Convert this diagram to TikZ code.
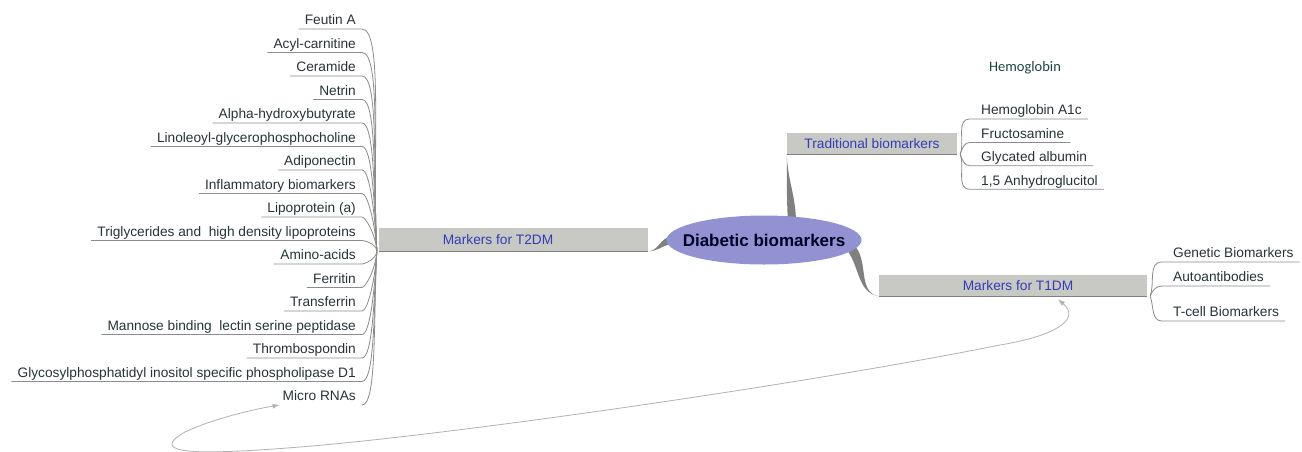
\documentclass[tikz,border=0pt]{standalone}
\usepackage{fontspec}
\setmainfont{Liberation Sans}
\newfontfamily\calfont{Carlito}
\usetikzlibrary{backgrounds,shapes,calc,arrows.meta}

\definecolor{hubblue}{RGB}{146,146,210}
\definecolor{boxgray}{RGB}{200,200,197}
\definecolor{linkgray}{RGB}{128,128,128}
\definecolor{twiggray}{RGB}{140,140,140}
\definecolor{labelblue}{RGB}{52,62,178}
\definecolor{leaftext}{RGB}{38,52,56}
\definecolor{arcgray}{RGB}{178,178,178}

\tikzset{
  leaf/.style={font=\fontsize{13.7}{16}\selectfont, text=leaftext, inner xsep=6pt, inner ysep=1pt, text height=10pt, text depth=3pt},
  branch/.style={fill=boxgray, inner sep=0pt, font=\fontsize{13.7}{16}\selectfont, text=labelblue},
  twig/.style={draw=twiggray, line width=0.8pt},
  limb/.style={fill=linkgray},
  rim/.style={draw=linkgray, line width=1.6pt}
}

\begin{document}
\begin{tikzpicture}[x=1pt,y=-1pt]
\useasboundingbox (0,0) rectangle (1302,451);

% hub and main branches
\node[ellipse, fill=hubblue, minimum width=195pt, minimum height=49pt, inner xsep=-14pt, inner ysep=0pt,
      font=\fontsize{17}{20}\selectfont\bfseries, text=black!85!blue] (hub) at (764,240) {Diabetic biomarkers};
\node[branch, minimum width=269pt, minimum height=23pt] (t2dm) at (513.5,239.5) {\hspace*{-31pt}Markers for T2DM};
\node[branch, minimum width=170pt, minimum height=21pt] (trad) at (872,143.5) {Traditional biomarkers};
\node[branch, minimum width=268pt, minimum height=21pt] (t1dm) at (1013,285.5) {Markers for T1DM\hspace*{-10pt}};

% T2DM leaves
\foreach \txt [count=\i from 0] in {Feutin A,Acyl-carnitine,Ceramide,Netrin,Alpha-hydroxybutyrate,
    Linoleoyl-glycerophosphocholine,Adiponectin,Inflammatory biomarkers,Lipoprotein (a),
    Triglycerides and~ high density lipoproteins,Amino-acids,Ferritin,Transferrin,
    Mannose binding~ lectin serine peptidase,Thrombospondin,
    Glycosylphosphatidyl inositol specific phospholipase D1,Micro RNAs}
  \node[leaf, anchor=south east] (m\i) at (362,{29+23.5*\i}) {\txt};

% traditional leaves
\foreach \txt [count=\i from 0] in {Hemoglobin A1c,Fructosamine,Glycated albumin,{1,5 Anhydroglucitol}}
  \node[leaf, anchor=south west] (h\i) at (975,{119+23.4*\i}) {\txt};

% T1DM leaves
\foreach \txt/\y [count=\i from 0] in {Genetic Biomarkers/262,Autoantibodies/286,T-cell Biomarkers/321}
  \node[leaf, anchor=south west] (g\i) at (1167,\y) {\txt};

\node[font=\calfont\fontsize{14.5}{17}\selectfont, text=leaftext!80!teal] (hb) at (1025,68) {Hemoglobin};

\begin{scope}[on background layer]
\fill[white] (0,0) rectangle (1302,451);
% tapered limbs
\fill[limb] ([xshift=4pt,yshift=3pt]hub.west) to[out=185,in=0] (t2dm.south east)
   to[out=0,in=195] ([xshift=4pt,yshift=-4pt]hub.west) -- cycle;
\fill[limb] ([xshift=24pt,yshift=-8pt]hub.north) to[out=93,in=-90] (trad.south west)
   to[out=-88,in=90] ([xshift=32pt,yshift=-8pt]hub.north) -- cycle;
\fill[limb] ([xshift=-9pt,yshift=-4pt]hub.east) to[out=-40,in=170] (t1dm.south west)
   to[out=170,in=-55] ([xshift=-14pt,yshift=-11pt]hub.east) -- cycle;
\draw[rim] (t2dm.south west) -- (t2dm.south east);
\draw[rim] (trad.south west) -- (trad.south east);
\draw[rim, line width=2pt] (t1dm.south west) -- (t1dm.south east);

% twigs
\foreach \i in {0,...,9}
  \draw[twig] ([xshift=-2pt]t2dm.south west) to[out=93,in=0,out looseness=1.1,in looseness=0.25] (m\i.south east) -- (m\i.south west);
\foreach \i in {10,...,15}
  \draw[twig] ([xshift=-2pt]t2dm.south west) to[out=-93,in=0,out looseness=1.1,in looseness=0.25] (m\i.south east) -- (m\i.south west);
\draw[twig] ([xshift=-2pt]t2dm.south west) to[out=-93,in=0,out looseness=1.1,in looseness=0.25] (m16.south east);
\foreach \i in {0,1}
  \draw[twig] ([xshift=3pt]trad.south east) to[out=70,in=180] ([xshift=-5pt]h\i.south west) -- (h\i.south east);
\foreach \i in {2,3}
  \draw[twig] ([xshift=3pt]trad.south east) to[out=-70,in=180] ([xshift=-5pt]h\i.south west) -- (h\i.south east);
\foreach \i in {0,1}
  \draw[twig] ([xshift=3pt]t1dm.south east) to[out=70,in=180] ([xshift=-5pt]g\i.south west) -- (g\i.south east);
\draw[twig] ([xshift=3pt]t1dm.south east) to[out=-70,in=180] ([xshift=-5pt]g2.south west) -- (g2.south east);
\end{scope}

% link between T1DM and micro RNAs
\draw[arcgray, line width=0.8pt, {Latex[length=7pt,width=5pt]}-{Latex[length=7pt,width=5pt]}]
  ([xshift=45pt,yshift=-3pt]t1dm.south) .. controls (1080,318) and (1060,335) .. (1000,345)
  .. controls (800,385) and (450,435) .. (300,447)
  .. controls (200,455) and (145,455) .. (185,432)
  .. controls (210,420) and (250,410) .. ([xshift=3pt]m16.south west);
\end{tikzpicture}
\end{document}
